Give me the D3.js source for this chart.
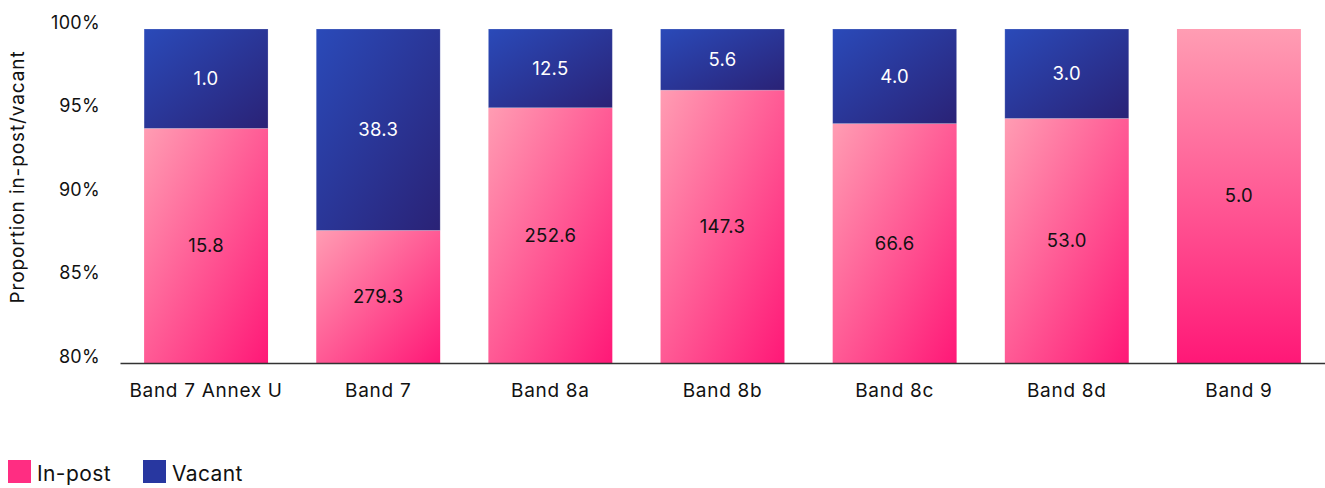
<!DOCTYPE html>
<html><head><meta charset="utf-8">
<script src="https://cdn.jsdelivr.net/npm/d3@7"></script>
<style>body{margin:0;background:#fff;font-family:Inter,"Noto Sans",sans-serif;}</style>
</head><body><svg id="c" width="1325" height="488"></svg>
<script>
const categories = ["Band 7 Annex U","Band 7","Band 8a","Band 8b","Band 8c","Band 8d","Band 9"];
const inPost = [15.8,279.3,252.6,147.3,66.6,53.0,5.0];
const vacant = [1.0,38.3,12.5,5.6,4.0,3.0,0];
const yTicks = [80,85,90,95,100];
const seriesNames = ["In-post","Vacant"];

const svg = d3.select("#c");
const defs = svg.append("defs");
function grad(id,c1,c2,x2,y2){
  const g = defs.append("linearGradient").attr("id",id).attr("x1",0).attr("y1",0).attr("x2",x2).attr("y2",y2);
  g.append("stop").attr("offset","0%").attr("stop-color",c1);
  g.append("stop").attr("offset","100%").attr("stop-color",c2);
}
grad("gPink","#ff9db3","#ff1877",1,1);
grad("gPinkV","#ff9db3","#ff1877",0,1);
grad("gBlue","#2a4ab9","#2a2276",1,1);

const FONT = "Inter,'Noto Sans',sans-serif";
const x = d3.scaleBand().domain(categories).range([120,1325]).paddingInner(0.28).paddingOuter(0.14);
const y = d3.scaleLinear().domain([80,100]).range([363,29]).clamp(true);

const data = categories.map((c,i)=>{
  const tot = inPost[i]+vacant[i];
  return {c, ip:inPost[i], va:vacant[i], p:inPost[i]/tot*100};
});

const g = svg.append("g");
data.forEach(d=>{
  const bx = x(d.c), bw = x.bandwidth();
  g.append("rect").attr("x",bx).attr("width",bw).attr("y",y(d.p)).attr("height",y(80)-y(d.p))
    .attr("fill", d.va>0 ? "url(#gPink)" : "url(#gPinkV)");
  g.append("text").attr("x",bx+bw/2).attr("y",(y(d.p)+y(80))/2).attr("dy","0.35em")
    .attr("text-anchor","middle").attr("font-size",18.5).attr("letter-spacing",0.3).attr("fill","#111").text(d.ip.toFixed(1));
  if(d.va>0){
    g.append("rect").attr("x",bx).attr("width",bw).attr("y",y(100)).attr("height",y(d.p)-y(100))
      .attr("fill","url(#gBlue)").attr("stroke","rgba(255,255,255,0.25)").attr("stroke-width",0.8);
    g.append("text").attr("x",bx+bw/2).attr("y",(y(d.p)+y(100))/2).attr("dy","0.35em")
      .attr("text-anchor","middle").attr("font-size",18.5).attr("letter-spacing",0.3).attr("fill","#fff").text(d.va.toFixed(1));
  }
});

const xa = svg.append("g").attr("transform",`translate(0,${y(80)})`)
  .call(d3.axisBottom(x).tickSize(0).tickPadding(21));
xa.select(".domain").attr("stroke","#333").attr("stroke-width",1.5);
xa.selectAll("text").attr("font-size",19).attr("letter-spacing",0.7).attr("fill","#111").attr("font-family",FONT);

const ya = svg.append("g").attr("transform","translate(100,0)")
  .call(d3.axisLeft(y).tickValues(yTicks).tickSize(0).tickPadding(0).tickFormat(d=>d+"%"));
ya.select(".domain").remove();
ya.selectAll("text").attr("font-size",18).attr("letter-spacing",0.3).attr("fill","#111").attr("dy","-0.05em").attr("font-family",FONT);

svg.append("text").attr("transform","translate(24,177) rotate(-90)").attr("text-anchor","middle")
  .attr("font-size",19).attr("letter-spacing",0.9).attr("fill","#111").text("Proportion in-post/vacant");

const leg = [{n:seriesNames[0],c:"#ff2d82",x:8,tx:37},{n:seriesNames[1],c:"#2837a0",x:143,tx:172}];
leg.forEach(l=>{
  svg.append("rect").attr("x",l.x).attr("y",460).attr("width",23).attr("height",23).attr("fill",l.c);
  svg.append("text").attr("x",l.tx).attr("y",474).attr("dy","0.35em").attr("font-size",21).attr("letter-spacing",0.4).attr("fill","#111").text(l.n);
});
</script></body></html>
